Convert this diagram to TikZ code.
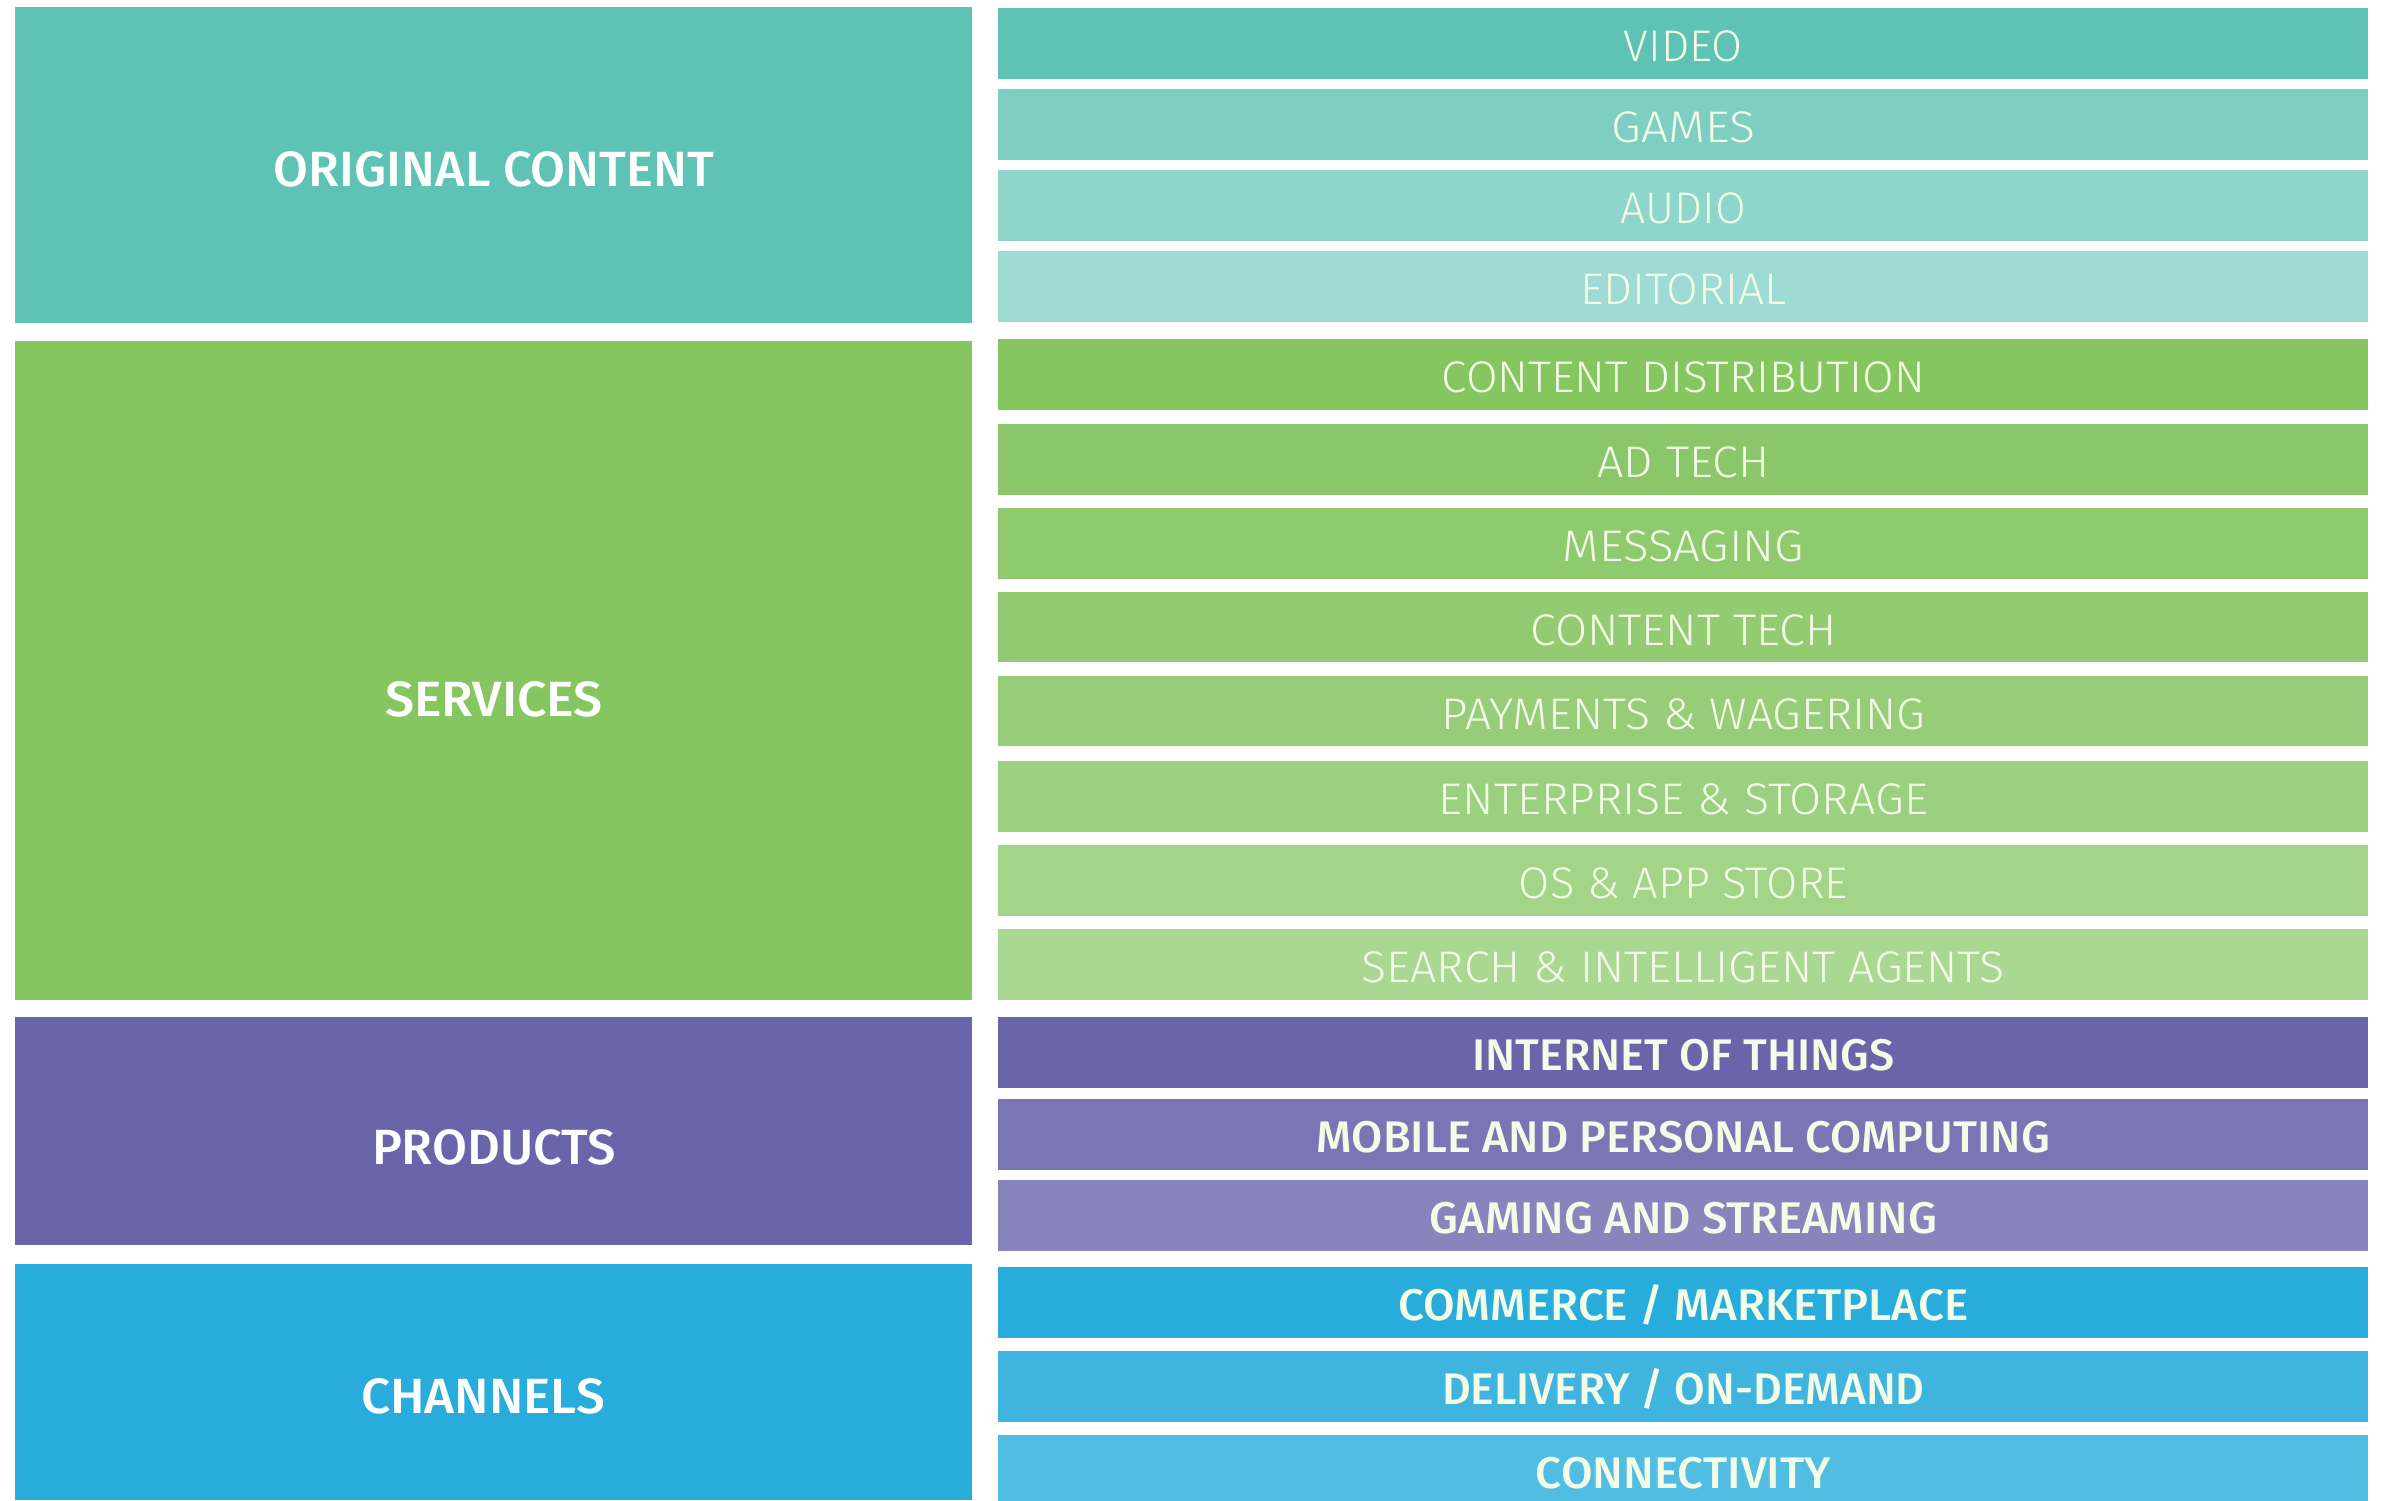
\documentclass[tikz,border=0pt]{standalone}
\usepackage{fontspec}
\usepackage{graphicx}
\setmainfont{Fira Sans}
\newfontfamily\lightfont{Fira Sans Light}
\newfontfamily\medfont{Fira Sans Medium}
\definecolor{teal1}{HTML}{5EC3B4}
\definecolor{teal2}{HTML}{7ECFC2}
\definecolor{teal3}{HTML}{8ED6CA}
\definecolor{teal4}{HTML}{9EDBD3}
\definecolor{green0}{HTML}{85C661}
\definecolor{green2}{HTML}{8BC76A}
\definecolor{green3}{HTML}{90CA6F}
\definecolor{green4}{HTML}{92CB72}
\definecolor{green5}{HTML}{97CD78}
\definecolor{green6}{HTML}{9CD081}
\definecolor{green7}{HTML}{A3D487}
\definecolor{green8}{HTML}{AAD791}
\definecolor{purp1}{HTML}{6A65AA}
\definecolor{purp2}{HTML}{7A75B4}
\definecolor{purp3}{HTML}{8884BC}
\definecolor{blue1}{HTML}{28ACDB}
\definecolor{blue2}{HTML}{3EB4DE}
\definecolor{blue3}{HTML}{52BDE2}
\definecolor{rtext}{HTML}{F2FCE6}
\newcommand\mkcell[6]{%
  \node[cell=#6, minimum width={(#4-#2)*1pt}, minimum height={(#5-#3)*1pt}] (#1) at ({(#2+#4)/2},{(#3+#5)/2}) {};}
\newcommand\rlabel[5]{%
  \node[#3] (#1) at ([yshift=-18pt]#2.center) {\resizebox{#4pt}{\height}{#5}};}
\begin{document}
\begin{tikzpicture}[x=1pt,y=-1pt,
  cell/.style={draw=none, fill=#1, inner sep=0pt, outer sep=0pt, rectangle},
  ltxt/.style={text=white, font=\medfont\fontsize{49.5}{50}\selectfont, anchor=base, inner sep=0pt},
  rtxt/.style={text=rtext, font=\lightfont\fontsize{44.3}{45}\selectfont, anchor=base, inner sep=0pt},
  rbtxt/.style={text=rtext, font=\medfont\fontsize{44.3}{45}\selectfont, anchor=base, inner sep=0pt}]
\useasboundingbox (0,0) rectangle (2383,1500);
\fill[white] (0,0) rectangle (2383,1500);
% left column
\mkcell{oc}{14.7}{7}{972}{322.7}{teal1}
\mkcell{sv}{14.7}{340.7}{972}{999.7}{green0}
\mkcell{pr}{14.7}{1017}{972}{1244.7}{purp1}
\mkcell{ch}{14.7}{1264}{972}{1500}{blue1}
\node[ltxt] (ocl) at (494,186) {\resizebox{440pt}{\height}{ORIGINAL CONTENT}};
\node[ltxt] (svl) at (494,716.7) {\resizebox{218pt}{\height}{SERVICES}};
\node[ltxt] (prl) at (494,1164.7) {\resizebox{244pt}{\height}{PRODUCTS}};
\node[ltxt] (chl) at (483,1413.7) {\resizebox{244pt}{\height}{CHANNELS}};
% right column
\mkcell{video}{998.4}{8}{2368.4}{78.7}{teal1}
\mkcell{games}{998.4}{89}{2368.4}{159.7}{teal2}
\mkcell{audio}{998.4}{170}{2368.4}{240.7}{teal3}
\mkcell{edit}{998.4}{251}{2368.4}{321.7}{teal4}
\mkcell{cd}{998.4}{339.2}{2368.4}{409.7}{green0}
\mkcell{ad}{998.4}{424}{2368.4}{494.6}{green2}
\mkcell{msg}{998.4}{508}{2368.4}{578.5}{green3}
\mkcell{ct}{998.4}{592}{2368.4}{662.4}{green4}
\mkcell{pay}{998.4}{675.8}{2368.4}{746.3}{green5}
\mkcell{ent}{998.4}{761}{2368.4}{831.6}{green6}
\mkcell{os}{998.4}{845}{2368.4}{915.5}{green7}
\mkcell{search}{998.4}{929}{2368.4}{999.5}{green8}
\mkcell{iot}{998.4}{1017}{2368.4}{1087.7}{purp1}
\mkcell{mob}{998.4}{1099}{2368.4}{1169.7}{purp2}
\mkcell{gam}{998.4}{1180}{2368.4}{1250.7}{purp3}
\mkcell{com}{998.4}{1267}{2368.4}{1337.7}{blue1}
\mkcell{del}{998.4}{1351}{2368.4}{1421.7}{blue2}
\mkcell{con}{998.4}{1435}{2368.4}{1505.7}{blue3}
\rlabel{videol}{video}{rtxt}{119}{VIDEO}
\rlabel{gamesl}{games}{rtxt}{144}{GAMES}
\rlabel{audiol}{audio}{rtxt}{125}{AUDIO}
\rlabel{editl}{edit}{rtxt}{206.5}{EDITORIAL}
\rlabel{cdl}{cd}{rtxt}{483}{CONTENT DISTRIBUTION}
\rlabel{adl}{ad}{rtxt}{172}{AD TECH}
\rlabel{msgl}{msg}{rtxt}{241}{MESSAGING}
\rlabel{ctl}{ct}{rtxt}{306}{CONTENT TECH}
\rlabel{payl}{pay}{rtxt}{484}{PAYMENTS \& WAGERING}
\rlabel{entl}{ent}{rtxt}{489}{ENTERPRISE \& STORAGE}
\rlabel{osl}{os}{rtxt}{329}{OS \& APP STORE}
\rlabel{searchl}{search}{rtxt}{643}{SEARCH \& INTELLIGENT AGENTS}
\rlabel{iotl}{iot}{rbtxt}{422}{INTERNET OF THINGS}
\rlabel{mobl}{mob}{rbtxt}{733}{MOBILE AND PERSONAL COMPUTING}
\rlabel{gaml}{gam}{rbtxt}{507}{GAMING AND STREAMING}
\rlabel{coml}{com}{rbtxt}{570}{COMMERCE / MARKETPLACE}
\rlabel{dell}{del}{rbtxt}{482.6}{DELIVERY / ON-DEMAND}
\rlabel{conl}{con}{rbtxt}{295}{CONNECTIVITY}
\end{tikzpicture}
\end{document}
